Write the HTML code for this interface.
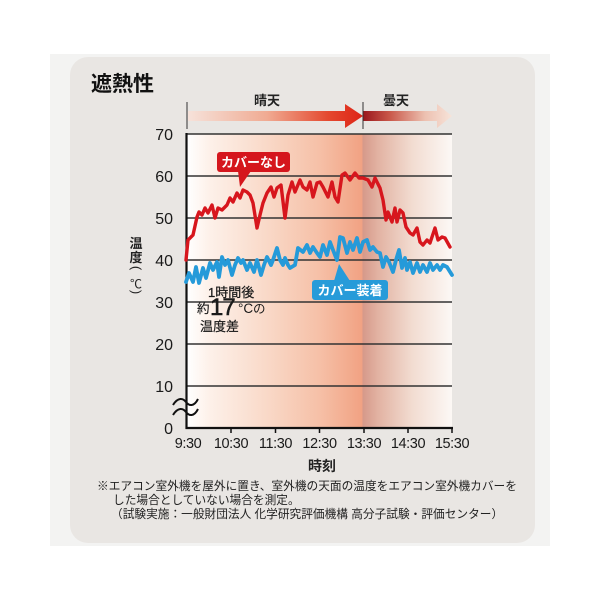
<!DOCTYPE html>
<html>
<head>
<meta charset="utf-8">
<style>
html,body{margin:0;padding:0;background:#fff;}
svg{display:block;}
text{font-family:"Liberation Sans","Noto Sans CJK JP",sans-serif;}
</style>
</head>
<body>
<svg width="600" height="600" viewBox="0 0 600 600" xmlns="http://www.w3.org/2000/svg">
<defs>
  <linearGradient id="bg" gradientUnits="userSpaceOnUse" x1="187" y1="0" x2="452" y2="0">
    <stop offset="0" stop-color="#ffffff"/>
    <stop offset="0.08" stop-color="#fdf1ea"/>
    <stop offset="0.3" stop-color="#f9d9c8"/>
    <stop offset="0.5" stop-color="#f6c0a7"/>
    <stop offset="0.66" stop-color="#f1a283"/>
    <stop offset="0.664" stop-color="#d6998a"/>
    <stop offset="0.72" stop-color="#e2b2a2"/>
    <stop offset="0.85" stop-color="#f2dcd1"/>
    <stop offset="1" stop-color="#fcf8f5"/>
  </linearGradient>
  <linearGradient id="ar1" gradientUnits="userSpaceOnUse" x1="188" y1="0" x2="363" y2="0">
    <stop offset="0" stop-color="#f6e2da"/>
    <stop offset="0.45" stop-color="#f0ab93"/>
    <stop offset="0.8" stop-color="#e4492f"/>
    <stop offset="1" stop-color="#de2316"/>
  </linearGradient>
  <linearGradient id="ar2" gradientUnits="userSpaceOnUse" x1="363" y1="0" x2="452" y2="0">
    <stop offset="0" stop-color="#9a171c"/>
    <stop offset="0.3" stop-color="#c9584a"/>
    <stop offset="0.7" stop-color="#edc1b1"/>
    <stop offset="1" stop-color="#f7e4da"/>
  </linearGradient>
</defs>

<!-- outer and panel -->
<rect x="50" y="54" width="500" height="492" fill="#f3f3f2"/>
<rect x="70" y="57" width="465" height="486" rx="18" ry="18" fill="#e9e6e3"/>

<!-- title -->
<text x="91" y="91" font-size="21" font-weight="bold" fill="#111">遮熱性</text>

<!-- weather arrows -->
<text x="267" y="105" font-size="13" font-weight="bold" fill="#222" text-anchor="middle">晴天</text>
<text x="396" y="105" font-size="13" font-weight="bold" fill="#222" text-anchor="middle">曇天</text>
<rect x="188" y="111" width="158" height="10" fill="url(#ar1)"/>
<polygon points="345,104 363,116 345,128" fill="url(#ar1)"/>
<rect x="363" y="111" width="75" height="10" fill="url(#ar2)"/>
<polygon points="437,104 452,116 437,128" fill="url(#ar2)"/>
<line x1="187" y1="102" x2="187" y2="129" stroke="#333" stroke-width="1"/>
<line x1="363" y1="102" x2="363" y2="129" stroke="#333" stroke-width="1"/>

<!-- plot background -->
<rect x="187" y="134" width="265" height="294" fill="url(#bg)"/>

<!-- gridlines -->
<g stroke="#333" stroke-width="1.5">
  <line x1="187" y1="134" x2="452" y2="134"/>
  <line x1="187" y1="176" x2="452" y2="176"/>
  <line x1="187" y1="218" x2="452" y2="218"/>
  <line x1="187" y1="260" x2="452" y2="260"/>
  <line x1="187" y1="302" x2="452" y2="302"/>
  <line x1="187" y1="344" x2="452" y2="344"/>
  <line x1="187" y1="386" x2="452" y2="386"/>
</g>

<!-- axes -->
<line x1="186.5" y1="133" x2="186.5" y2="429" stroke="#111" stroke-width="2.2"/>
<line x1="185.5" y1="428" x2="453" y2="428" stroke="#111" stroke-width="2.2"/>
<g stroke="#111" stroke-width="1.5">
  <line x1="231" y1="428" x2="231" y2="433"/>
  <line x1="275.5" y1="428" x2="275.5" y2="433"/>
  <line x1="319.5" y1="428" x2="319.5" y2="433"/>
  <line x1="364" y1="428" x2="364" y2="433"/>
  <line x1="408" y1="428" x2="408" y2="433"/>
  <line x1="452" y1="428" x2="452" y2="433"/>
</g>

<!-- break symbol -->
<g fill="none" stroke="#111" stroke-width="2">
  <path d="M173,405 C178,397 183,398 186,402 C189,406 194,407 198,399"/>
  <path d="M173,415 C178,407 183,408 186,412 C189,416 194,417 198,409"/>
</g>

<!-- y labels -->
<g font-size="16" fill="#1a1a1a" text-anchor="end">
  <text x="173" y="140">70</text>
  <text x="173" y="182">60</text>
  <text x="173" y="224">50</text>
  <text x="173" y="266">40</text>
  <text x="173" y="308">30</text>
  <text x="173" y="350">20</text>
  <text x="173" y="392">10</text>
  <text x="173" y="434">0</text>
</g>

<!-- y axis title -->
<text x="136" y="248" font-size="13" font-weight="bold" fill="#222" text-anchor="middle">温</text>
<text x="136" y="262" font-size="13" font-weight="bold" fill="#222" text-anchor="middle">度</text>
<text x="136" y="272" font-size="13" fill="#222" text-anchor="middle" transform="rotate(90 136 268)">(</text>
<text x="136" y="288" font-size="12" fill="#222" text-anchor="middle">℃</text>
<text x="136" y="296" font-size="13" fill="#222" text-anchor="middle" transform="rotate(90 136 292)">)</text>

<!-- x labels -->
<g font-size="14.5" fill="#1a1a1a" text-anchor="middle" letter-spacing="-0.4">
  <text x="188" y="448">9:30</text>
  <text x="231" y="448">10:30</text>
  <text x="275.5" y="448">11:30</text>
  <text x="319.5" y="448">12:30</text>
  <text x="364" y="448">13:30</text>
  <text x="408" y="448">14:30</text>
  <text x="452" y="448">15:30</text>
</g>
<text x="322" y="471" font-size="14" font-weight="bold" fill="#222" text-anchor="middle">時刻</text>

<!-- series -->
<polyline fill="none" stroke="#d7161d" stroke-width="3.4" stroke-linejoin="round" stroke-linecap="round"
 points="186,260 188,240 193,235 197,217 199,212 202,215 205,208 208,213 212,205 215,218 218,208 222,210 227,205 230,198 233,202 237,193 240,198 243,190 247,192 250,195 253,203 257,228 260,215 263,203 267,193 271,187 274,197 277,188 281,185 285,218 288,195 292,182 295,192 300,180 303,187 307,190 310,182 313,197 317,183 320,182 323,187 328,197 332,182 335,197 338,202 342,175 345,173 350,180 355,173 359,178 363,178 368,180 372,187 375,178 380,188 383,200 386,220 388,212 392,222 395,208 397,222 400,210 403,213 406,227 410,233 413,235 417,228 420,242 423,245 427,240 430,243 435,228 438,240 442,237 445,238 450,247"/>
<polyline fill="none" stroke="#259ad9" stroke-width="3.8" stroke-linejoin="round" stroke-linecap="round"
 points="186,282 189,273 193,282 196,267 199,283 203,268 206,278 210,263 213,270 217,262 219,277 222,257 225,265 228,260 232,275 235,265 238,258 241,263 243,260 247,270 250,263 254,272 257,260 261,275 264,265 267,257 271,265 273,260 277,248 280,260 283,265 285,258 288,265 290,268 295,265 298,248 303,252 307,245 310,253 313,247 317,253 320,257 323,245 327,255 330,242 333,250 337,260 340,237 343,238 347,253 350,242 353,250 357,238 360,252 363,242 367,240 370,250 373,247 377,252 380,253 383,267 386,257 389,262 393,272 396,260 399,250 402,268 405,258 407,270 410,262 413,273 417,263 420,272 423,265 427,272 430,263 433,270 437,265 440,270 443,265 447,267 452,275"/>

<!-- callouts -->
<rect x="217" y="152" width="73" height="20" rx="3" fill="#d5161d"/>
<polygon points="238,171 251,171 240,187" fill="#d5161d"/>
<text x="253.5" y="167" font-size="13" font-weight="bold" fill="#fff" text-anchor="middle">カバーなし</text>

<rect x="312" y="280" width="76" height="20" rx="3" fill="#279bd9"/>
<polygon points="339,264 334,281 350,281" fill="#279bd9"/>
<text x="350" y="295" font-size="13" font-weight="bold" fill="#fff" text-anchor="middle">カバー装着</text>

<!-- annotation -->
<text x="208" y="297" font-size="13" fill="#1a1a1a" stroke="#1a1a1a" stroke-width="0.25">1時間後</text>
<text x="197" y="313" font-size="12.5" fill="#1a1a1a" stroke="#1a1a1a" stroke-width="0.2">約</text>
<text x="210" y="315" font-size="24" fill="#1a1a1a" stroke="#1a1a1a" stroke-width="0.5" letter-spacing="-1">17</text>
<text x="238" y="313" font-size="13.5" fill="#1a1a1a">°C</text>
<text x="253" y="313" font-size="12.5" fill="#1a1a1a">の</text>
<text x="200" y="331" font-size="13" fill="#1a1a1a" stroke="#1a1a1a" stroke-width="0.2">温度差</text>

<!-- footnote -->
<g font-size="11.7" fill="#222">
  <text x="97" y="490">※エアコン室外機を屋外に置き、室外機の天面の温度をエアコン室外機カバーを</text>
  <text x="113" y="504">した場合としていない場合を測定。</text>
  <text x="111" y="518">（試験実施：一般財団法人 化学研究評価機構 高分子試験・評価センター）</text>
</g>
</svg>
</body>
</html>
